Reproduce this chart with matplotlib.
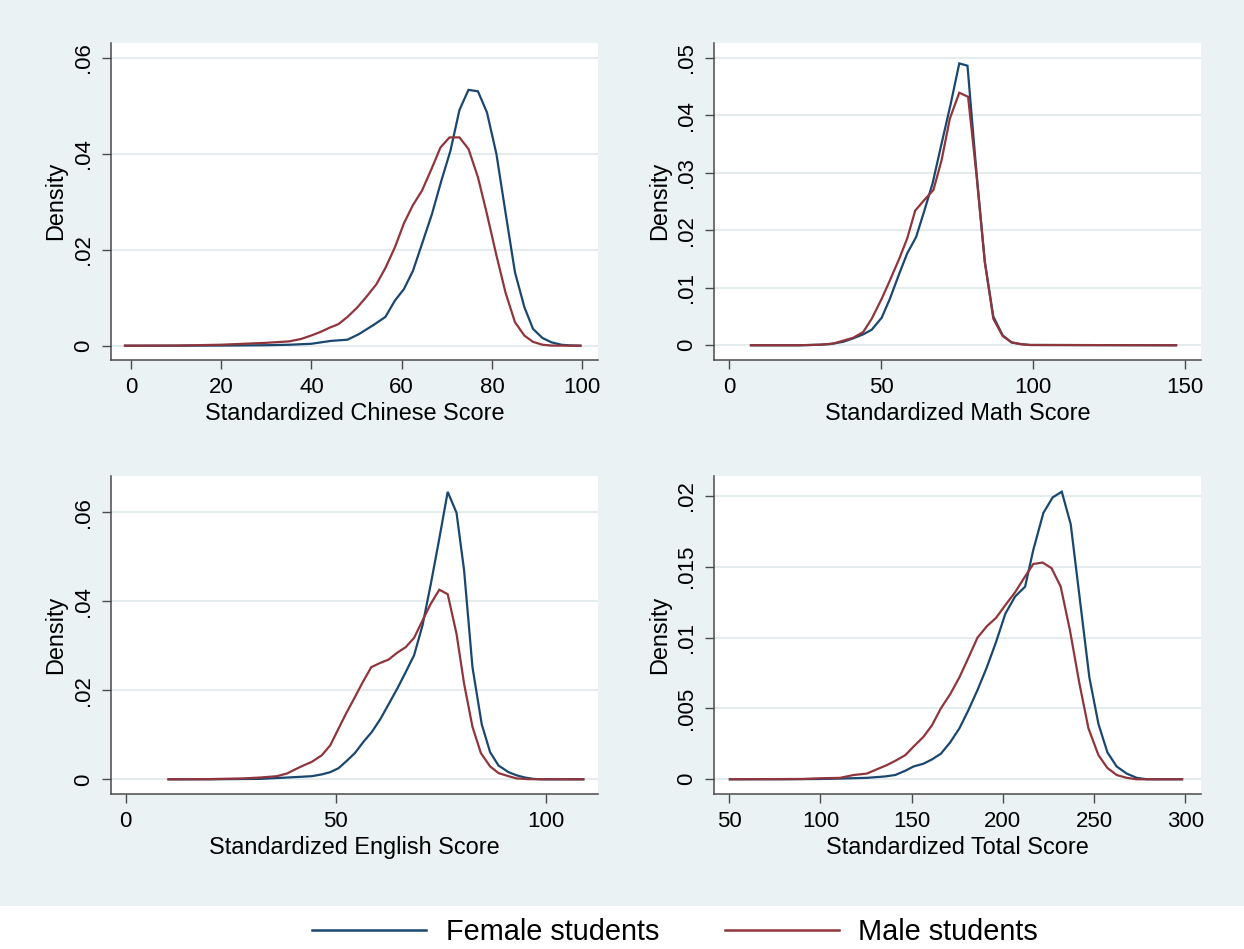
import matplotlib
matplotlib.use("Agg")
import matplotlib.pyplot as plt
from matplotlib.patches import Rectangle
from matplotlib.lines import Line2D

plt.rcParams['font.family'] = ['Liberation Sans', 'DejaVu Sans']

# ---------------- data ----------------
chinese_f_x = [-1.3, 10, 20, 30, 35.1, 40, 44.3, 48.0, 50.5, 53.9, 56.4, 58.5, 60.5, 62.5, 64.5, 66.7, 68.8, 70.8,
               72.8, 74.8, 76.9, 78.9, 81.0, 83.0, 85.1, 87.2, 89.1, 91.2, 93.2, 95.4, 97.4, 99.6]
chinese_f_y = [0, 0, 0.00003, 0.0001, 0.0002, 0.0004, 0.001, 0.00125, 0.0024, 0.0044, 0.006, 0.0094, 0.0118, 0.0156,
               0.0212, 0.0274, 0.0344, 0.0406, 0.0491, 0.0533, 0.053, 0.0486, 0.0399, 0.0278, 0.0153, 0.008, 0.0035,
               0.0016, 0.0007, 0.0002, 0.00005, 0]
chinese_m_x = [-1.3, 10, 20, 25, 30, 35.1, 37.7, 39.9, 42.1, 43.9, 46.0, 48.0, 50.2, 52.2, 54.4, 56.4, 58.5, 60.5,
               62.5, 64.5, 66.6, 68.6, 70.6, 72.8, 74.8, 76.9, 78.9, 81.0, 83.0, 85.1, 87.2, 89.1, 91.2, 93.2, 99.6]
chinese_m_y = [0, 0.00003, 0.0002, 0.0004, 0.0006, 0.0009, 0.0014, 0.0021, 0.0029, 0.0037, 0.0045, 0.006, 0.008,
               0.0102, 0.0128, 0.0162, 0.0205, 0.0255, 0.0293, 0.0323, 0.0368, 0.0413, 0.0434, 0.0434, 0.041, 0.0351,
               0.0274, 0.0188, 0.0111, 0.0049, 0.0021, 0.0008, 0.0002, 0.00003, 0]

math_f_x = [7.2, 15, 23.3, 30, 33.2, 37.5, 40.8, 44.1, 46.9, 50.2, 52.9, 56.0, 58.6, 61.5, 64.1, 66.9, 69.9, 72.9,
            75.7, 78.4, 81.2, 84.1, 86.9, 90.0, 92.9, 95.9, 98.9, 147]
math_f_y = [0, 0, 0, 0.0001, 0.0002, 0.0006, 0.0012, 0.0019, 0.0027, 0.0048, 0.0081, 0.0125, 0.016, 0.0188, 0.0232,
            0.0281, 0.0351, 0.042, 0.049, 0.0486, 0.031, 0.0145, 0.005, 0.0017, 0.0005, 0.0002, 0.00005, 0]
math_m_x = [7.2, 23.3, 30, 34.3, 37.5, 40.8, 44.1, 46.9, 50.2, 52.9, 56.0, 58.6, 61.2, 64.1, 67.2, 69.9, 72.6, 75.7,
            78.6, 81.3, 84.1, 86.9, 90.0, 92.9, 95.9, 98.9, 147]
math_m_y = [0, 0, 0.0001, 0.0003, 0.0008, 0.0013, 0.0023, 0.0046, 0.0081, 0.0113, 0.0151, 0.0186, 0.0234, 0.0252,
            0.027, 0.0322, 0.0394, 0.0439, 0.0432, 0.0299, 0.0145, 0.0046, 0.0016, 0.0005, 0.0002, 0.00005, 0]

english_f_x = [10.2, 20, 32.0, 38.4, 44.3, 46.7, 48.7, 50.7, 52.6, 54.6, 56.6, 58.6, 60.7, 62.7, 64.7, 66.7, 68.7,
               70.7, 72.7, 74.7, 76.7, 78.8, 80.6, 82.6, 84.8, 86.8, 88.8, 91.2, 93.1, 95.1, 97.1, 99.0, 109.0]
english_f_y = [0, 0, 0.0001, 0.0004, 0.0007, 0.0011, 0.0016, 0.0025, 0.0041, 0.0059, 0.0084, 0.0106, 0.0136, 0.017,
               0.0204, 0.0241, 0.0279, 0.0346, 0.044, 0.0541, 0.0646, 0.0599, 0.047, 0.0252, 0.0124, 0.0061, 0.0031,
               0.0016, 0.0009, 0.0004, 0.0001, 0, 0]
english_m_x = [10.2, 20, 28, 32.0, 36.0, 38.4, 40.3, 42.3, 44.3, 46.7, 48.7, 50.7, 52.5, 54.5, 56.5, 58.5, 60.5,
               62.6, 64.6, 66.7, 68.7, 70.7, 72.7, 74.7, 76.7, 78.8, 80.6, 82.6, 84.6, 86.8, 88.8, 91.2, 93.1, 96,
               109]
english_m_y = [0, 0.00005, 0.0002, 0.0004, 0.0007, 0.0013, 0.0022, 0.0031, 0.0039, 0.0054, 0.0076, 0.0114, 0.0148,
               0.0183, 0.0219, 0.0252, 0.0261, 0.0269, 0.0284, 0.0297, 0.0318, 0.0357, 0.0395, 0.0426, 0.0416,
               0.0327, 0.0215, 0.0118, 0.0059, 0.0029, 0.0014, 0.0007, 0.0002, 0.00003, 0]

total_f_x = [50.4, 80, 100, 110.8, 125.4, 135.5, 141.0, 146.5, 151.0, 156.5, 161.1, 166.0, 171.1, 176.2, 181.2,
             186.1, 191.2, 196.3, 201.4, 206.7, 212.2, 216.7, 222.2, 227.3, 232.3, 237.2, 242.3, 247.4, 252.4,
             257.3, 262.4, 267.9, 273.4, 278.8, 298.2]
total_f_y = [0, 0, 0.00002, 0.00005, 0.0001, 0.0002, 0.0003, 0.0006, 0.0009, 0.0011, 0.0014, 0.0018, 0.0026,
             0.0036, 0.0049, 0.0063, 0.0079, 0.0097, 0.0117, 0.0129, 0.0136, 0.0162, 0.0188, 0.0199, 0.0203, 0.018,
             0.0126, 0.0072, 0.0039, 0.0019, 0.0009, 0.0004, 0.0001, 0, 0]
total_m_x = [50.4, 90, 100, 110.8, 118.1, 125.4, 130.9, 136.4, 141.0, 146.5, 151.0, 156.5, 161.1, 166.0, 171.1,
             176.2, 181.2, 186.1, 191.2, 196.3, 201.4, 206.7, 211.6, 216.7, 221.8, 226.7, 231.7, 236.8, 241.9,
             246.9, 252.4, 257.3, 262.4, 267.9, 273.4, 298.2]
total_m_y = [0, 0.00002, 0.00007, 0.0001, 0.0003, 0.0004, 0.0007, 0.001, 0.0013, 0.0017, 0.0023, 0.003, 0.0038,
             0.005, 0.006, 0.0072, 0.0086, 0.01, 0.0108, 0.0114, 0.0123, 0.0132, 0.0142, 0.0152, 0.0153, 0.0149,
             0.0136, 0.0105, 0.0068, 0.0036, 0.0017, 0.0008, 0.0003, 0.0001, 0, 0]

x_titles = ["Standardized Chinese Score", "Standardized Math Score",
            "Standardized English Score", "Standardized Total Score"]
x_ticks = [[0, 20, 40, 60, 80, 100], [0, 50, 100, 150], [0, 50, 100], [50, 100, 150, 200, 250, 300]]
y_ticks = [[0, 0.02, 0.04, 0.06], [0, 0.01, 0.02, 0.03, 0.04, 0.05], [0, 0.02, 0.04, 0.06],
           [0, 0.005, 0.01, 0.015, 0.02]]
y_ticklabels = [["0", ".02", ".04", ".06"], ["0", ".01", ".02", ".03", ".04", ".05"], ["0", ".02", ".04", ".06"],
                ["0", ".005", ".01", ".015", ".02"]]
series_labels = ["Female students", "Male students"]

# ---------------- styling / layout ----------------
NAVY = "#1A476F"
MAROON = "#90353B"
BG = "#EAF2F3"
GRID = "#E4ECEE"
AXC = "#4A4A4A"

W, H = 1244, 949
fig = plt.figure(figsize=(W / 100, H / 100), dpi=100, facecolor=BG)
fig.add_artist(Rectangle((0, 0), 1, (H - 906) / H, transform=fig.transFigure,
                         facecolor="white", edgecolor="none", zorder=0))

def px_axes(l, t, r, b):
    return [l / W, 1 - b / H, (r - l) / W, (b - t) / H]

rects = [px_axes(110.7, 42.7, 598, 360), px_axes(714.4, 42.7, 1201, 360),
         px_axes(110.7, 476, 598, 794), px_axes(714.4, 476, 1201, 794)]
xlims = [(-4.47, 103.5), (-4.83, 155.2), (-3.57, 112.5), (41.9, 308.6)]
ylims = [(-0.00298, 0.06313), (-0.00256, 0.0526), (-0.0033, 0.06816), (-0.00104, 0.02141)]

data = [((chinese_f_x, chinese_f_y), (chinese_m_x, chinese_m_y)),
        ((math_f_x, math_f_y), (math_m_x, math_m_y)),
        ((english_f_x, english_f_y), (english_m_x, english_m_y)),
        ((total_f_x, total_f_y), (total_m_x, total_m_y))]

for i in range(4):
    ax = fig.add_axes(rects[i])
    ax.set_facecolor("white")
    (fx, fy), (mx, my) = data[i]
    ax.plot(fx, fy, color=NAVY, lw=1.6, zorder=3, solid_joinstyle="miter")
    ax.plot(mx, my, color=MAROON, lw=1.6, zorder=3, solid_joinstyle="miter")
    ax.set_xlim(*xlims[i])
    ax.set_ylim(*ylims[i])
    ax.set_xticks(x_ticks[i])
    ax.set_xticklabels([str(v) for v in x_ticks[i]])
    ax.set_yticks(y_ticks[i])
    ax.set_yticklabels(y_ticklabels[i], rotation=90, va="center")
    ax.grid(axis="y", color=GRID, lw=1.5, zorder=1)
    ax.set_axisbelow(True)
    for s in ("top", "right"):
        ax.spines[s].set_visible(False)
    for s in ("left", "bottom"):
        ax.spines[s].set_color(AXC)
        ax.spines[s].set_linewidth(1.1)
    ax.tick_params(axis="both", direction="out", length=6.2, width=1.0, color=AXC,
                   labelsize=16, labelcolor="black")
    ax.tick_params(axis="x", pad=6)
    ax.tick_params(axis="y", pad=6)
    ax.set_xlabel(x_titles[i], fontsize=16.9, labelpad=3)
    ax.set_ylabel("Density", fontsize=16.9, labelpad=4)

handles = [Line2D([], [], color=NAVY, lw=1.8), Line2D([], [], color=MAROON, lw=1.8)]
fig.legend(handles, series_labels, loc="center", bbox_to_anchor=(675 / W, 1 - 932 / H), ncol=2,
           frameon=False, fontsize=20.8, handlelength=3.95, handletextpad=0.66, columnspacing=2.28)

fig.savefig("out.png", dpi=100, facecolor=BG)
